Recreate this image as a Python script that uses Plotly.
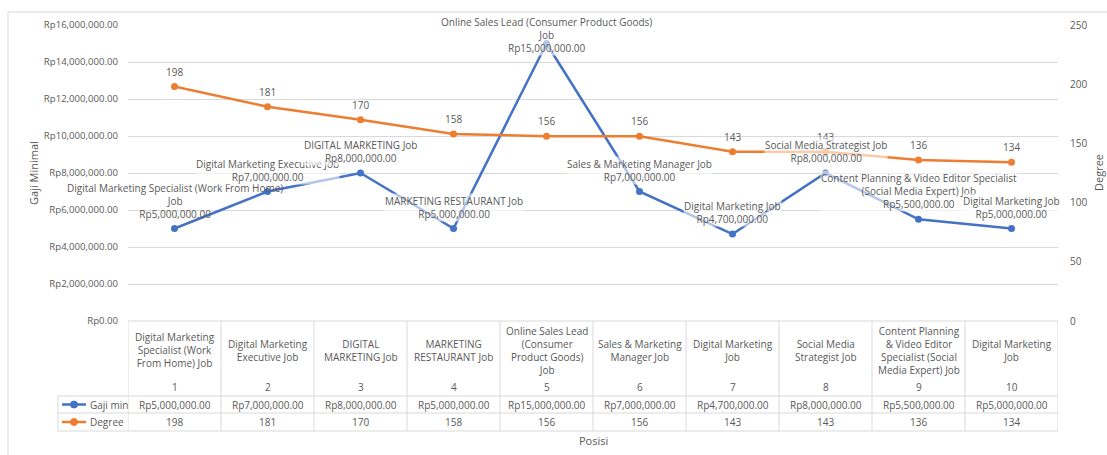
import textwrap
import plotly.graph_objects as go

# ---------------- data ----------------
positions = [1, 2, 3, 4, 5, 6, 7, 8, 9, 10]
header_labels = [
    "Digital Marketing<br>Specialist (Work<br>From Home) Job",
    "Digital Marketing<br>Executive Job",
    "DIGITAL<br>MARKETING Job",
    "MARKETING<br>RESTAURANT Job",
    "Online Sales Lead<br>(Consumer<br>Product Goods)<br>Job",
    "Sales & Marketing<br>Manager Job",
    "Digital Marketing<br>Job",
    "Social Media<br>Strategist Job",
    "Content Planning<br>& Video Editor<br>Specialist (Social<br>Media Expert) Job",
    "Digital Marketing<br>Job",
]
gaji_min = [5000000, 7000000, 8000000, 5000000, 15000000,
            7000000, 4700000, 8000000, 5500000, 5000000]
degree = [198, 181, 170, 158, 156, 156, 143, 143, 136, 134]
left_ticks = [0, 2000000, 4000000, 6000000, 8000000, 10000000, 12000000, 14000000, 16000000]
right_ticks = [0, 50, 100, 150, 200, 250]
series_names = ["Gaji min", "Degree"]
x_title = "Posisi"
left_title = "Gaji Minimal"
right_title = "Degree"

# ---------------- layout geometry (pixels) ----------------
W, H = 1107, 455
L, R, T, B = 128, 1058, 25, 321
PW, PH = R - L, B - T


def px(X):
    return (X - L) / PW


def py(Y):
    return (B - Y) / PH


BLUE = "#4472C4"
ORANGE = "#ED7D31"
TXT = "#595959"
GRID = "#D9D9D9"
FONT = "Open Sans"


def rp(v):
    return f"Rp{v:,.2f}"


fig = go.Figure()
fig.add_trace(go.Scatter(
    x=positions, y=gaji_min, name=series_names[0], mode="lines+markers",
    line=dict(color=BLUE, width=2.5), marker=dict(size=7, color=BLUE),
    yaxis="y", cliponaxis=False, hoverinfo="skip"))
fig.add_trace(go.Scatter(
    x=positions, y=degree, name=series_names[1], mode="lines+markers",
    line=dict(color=ORANGE, width=2.5), marker=dict(size=7, color=ORANGE),
    yaxis="y2", cliponaxis=False, hoverinfo="skip"))

annotations = []
shapes = []
f10 = dict(family=FONT, size=10, color=TXT)

# Degree labels
for x, v in zip(positions, degree):
    annotations.append(dict(x=x, y=v, xref="x", yref="y2", text=str(v),
                            showarrow=False, yanchor="middle", yshift=15, font=f10))

# Gaji min labels (category + value)
ymax = left_ticks[-1]
for x, v, lab in zip(positions, gaji_min, header_labels):
    name = lab.replace("<br>", " ")
    text = "<br>".join(textwrap.wrap(name, 45)) + "<br>" + rp(v)
    a = dict(x=x, xref="x", text=text, showarrow=False, font=f10, borderpad=0)
    if x != positions[0]:
        a["bgcolor"] = "rgba(255,255,255,0.6)"
    if v > 0.85 * ymax:
        a.update(y=1, yref="paper", yanchor="top", yshift=11)
    else:
        a.update(y=v, yref="y", yanchor="bottom", yshift=7)
    annotations.append(a)

# ---------------- data table ----------------
for i, (x, lab) in enumerate(zip(positions, header_labels)):
    annotations.append(dict(x=x, y=py(350.5), xref="x", yref="paper", text=lab,
                            showarrow=False, yanchor="middle", font=f10))
    annotations.append(dict(x=x, y=py(387), xref="x", yref="paper", text=str(x),
                            showarrow=False, yanchor="middle", font=f10))
    annotations.append(dict(x=x, y=py(404.5), xref="x", yref="paper", text=rp(gaji_min[i]),
                            showarrow=False, yanchor="middle", font=f10))
    annotations.append(dict(x=x, y=py(422), xref="x", yref="paper", text=str(degree[i]),
                            showarrow=False, yanchor="middle", font=f10))

line_style = dict(color=GRID, width=1)
# vertical lines
for k in range(len(positions) + 1):
    xv = positions[0] - 0.5 + k
    shapes.append(dict(type="line", xref="x", yref="paper", x0=xv, x1=xv,
                       y0=py(321), y1=py(431), line=line_style))
shapes.append(dict(type="line", xref="paper", yref="paper", x0=px(58), x1=px(58),
                   y0=py(396), y1=py(431), line=line_style))
# horizontal lines
shapes.append(dict(type="line", xref="x", yref="paper", x0=0.5, x1=10.5,
                   y0=py(321), y1=py(321), line=line_style))
for Y in (396, 413, 431):
    shapes.append(dict(type="line", xref="x", yref="paper", x0=0.5, x1=10.5,
                       y0=py(Y), y1=py(Y), line=line_style))
    shapes.append(dict(type="line", xref="paper", yref="paper", x0=px(58), x1=0,
                       y0=py(Y), y1=py(Y), line=line_style))

# legend keys inside table
for name, color, Y in ((series_names[0], BLUE, 404.5), (series_names[1], ORANGE, 422)):
    shapes.append(dict(type="line", xref="paper", yref="paper", x0=px(62), x1=px(86),
                       y0=py(Y), y1=py(Y), line=dict(color=color, width=2.5)))
    shapes.append(dict(type="circle", xref="paper", yref="paper",
                       x0=px(70.5), x1=px(77.5), y0=py(Y + 3.5), y1=py(Y - 3.5),
                       fillcolor=color, line=dict(color=color, width=1)))
    annotations.append(dict(x=px(88), y=py(Y), xref="paper", yref="paper", text=name,
                            showarrow=False, xanchor="left", yanchor="middle", font=f10))

# chart outer border (left & top)
shapes.append(dict(type="line", xref="paper", yref="paper", x0=px(8), x1=px(8),
                   y0=py(12), y1=py(470), line=line_style))
shapes.append(dict(type="line", xref="paper", yref="paper", x0=px(8), x1=px(1120),
                   y0=py(12), y1=py(12), line=line_style))

# axis titles
f11 = dict(family=FONT, size=11, color=TXT)
annotations.append(dict(x=0.5, y=py(440), xref="paper", yref="paper", text=x_title,
                        showarrow=False, yanchor="middle", font=f11))
annotations.append(dict(x=px(33), y=py(173), xref="paper", yref="paper", text=left_title,
                        showarrow=False, textangle=-90, xanchor="center", yanchor="middle", font=f11))
annotations.append(dict(x=px(1098), y=py(173), xref="paper", yref="paper", text=right_title,
                        showarrow=False, textangle=-90, xanchor="center", yanchor="middle", font=f11))

fig.update_layout(
    width=W, height=H,
    margin=dict(l=L, r=W - R, t=T, b=H - B, pad=0),
    paper_bgcolor="white", plot_bgcolor="white",
    showlegend=False, hovermode=False,
    font=dict(family=FONT, size=10, color=TXT),
    xaxis=dict(range=[0.5, 10.5], showgrid=False, zeroline=False, showticklabels=False,
               showline=False, ticks="", fixedrange=True),
    yaxis=dict(range=[0, ymax], tickvals=left_ticks,
               ticktext=[rp(v) for v in left_ticks],
               showgrid=True, gridcolor=GRID, gridwidth=1, zeroline=False, showline=False,
               ticks="", ticklabelstandoff=9, tickfont=dict(family=FONT, size=9.6, color=TXT),
               fixedrange=True),
    yaxis2=dict(range=[0, right_ticks[-1]], tickvals=right_ticks, overlaying="y", side="right",
                showgrid=False, zeroline=False, showline=False, ticks="",
                ticklabelstandoff=11, tickfont=f10, fixedrange=True),
    annotations=annotations, shapes=shapes,
)

fig.write_html("out.html")
